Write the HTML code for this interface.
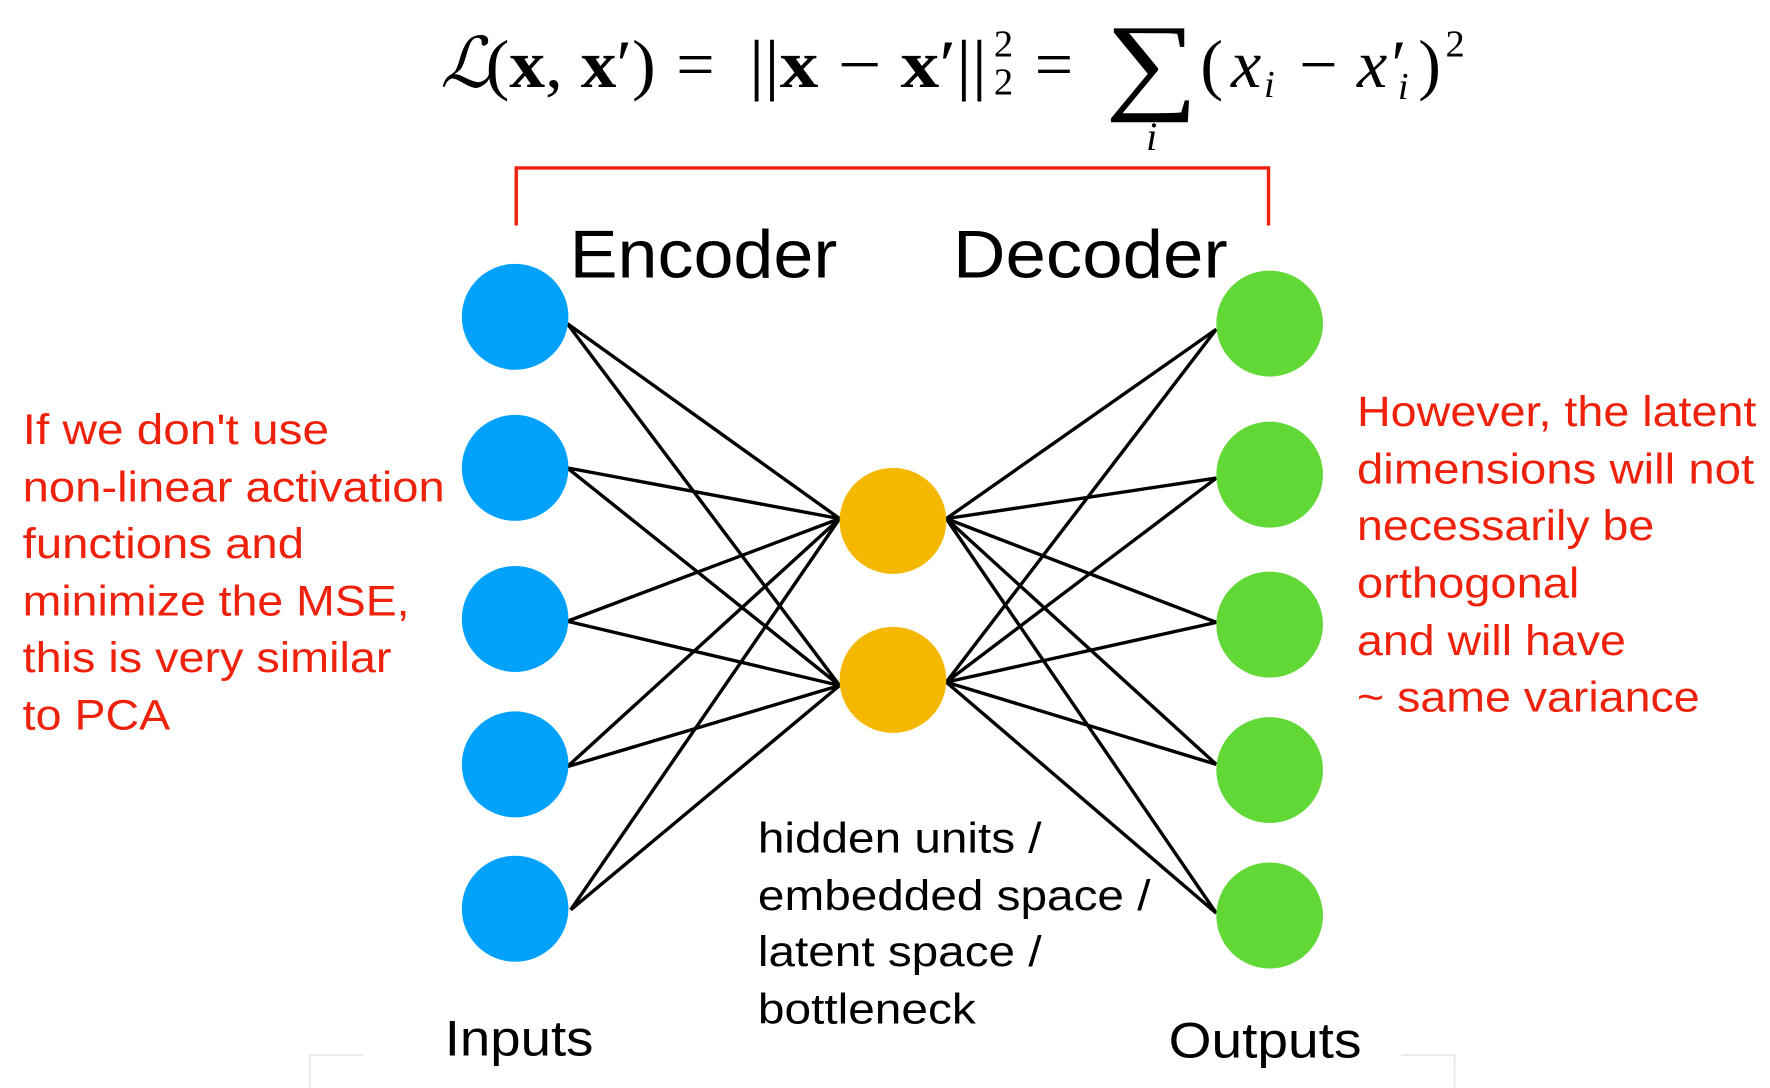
<!DOCTYPE html>
<html><head><meta charset="utf-8"><style>
html,body{margin:0;padding:0;background:#fff;}
svg{display:block;}
</style></head><body>
<svg width="1770" height="1088" viewBox="0 0 1560 965" preserveAspectRatio="none" xmlns="http://www.w3.org/2000/svg">
<rect width="1560" height="965" fill="#fff"/>
<!-- formula -->
<g font-family="Liberation Serif, serif" fill="#000">
<text x="388" y="77" font-size="62" font-style="italic">ℒ</text>
<text x="428" y="77" font-size="60" textLength="150" lengthAdjust="spacingAndGlyphs">(<tspan font-weight="bold">x</tspan>, <tspan font-weight="bold">x</tspan>′)</text>
<text x="596" y="77" font-size="60">=</text>
<text x="660" y="77" font-size="60" textLength="210" lengthAdjust="spacingAndGlyphs">||<tspan font-weight="bold">x</tspan> − <tspan font-weight="bold">x</tspan>′||</text>
<text x="876" y="50" font-size="34">2</text>
<text x="876" y="84" font-size="34">2</text>
<text x="912" y="77" font-size="60">=</text>
<text x="974" y="88" font-size="96" textLength="82" lengthAdjust="spacingAndGlyphs">∑</text>
<text x="1010" y="133" font-size="36" font-style="italic">i</text>
<text x="1058" y="77" font-size="60">(</text>
<text x="1085" y="77" font-size="60" font-style="italic">x</text>
<text x="1114" y="86" font-size="34" font-style="italic">i</text>
<text x="1145" y="77" font-size="60">−</text>
<text x="1196" y="77" font-size="60" font-style="italic">x′</text>
<text x="1232" y="88" font-size="34" font-style="italic">i</text>
<text x="1250" y="77" font-size="60">)</text>
<text x="1274" y="50" font-size="34">2</text>
</g>
<!-- bracket -->
<path d="M455 200 V149 H1118 V200" fill="none" stroke="#ee220c" stroke-width="3"/>
<g font-family="Liberation Sans, sans-serif">
<text x="502" y="246" font-size="60" textLength="236" lengthAdjust="spacingAndGlyphs">Encoder</text>
<text x="840" y="246" font-size="60" textLength="242" lengthAdjust="spacingAndGlyphs">Decoder</text>
</g>
<!-- lines -->
<g stroke="#000" stroke-width="3" fill="none">
<path d="M500 287 L740 460 M500 287 L740 608
M500 415 L740 460 M500 415 L740 608
M500 551 L740 460 M500 551 L740 608
M500 680 L740 460 M500 680 L740 608
M503 807 L740 460 M503 807 L740 608
M834 460 L1072 292 M834 460 L1072 424 M834 460 L1072 552 M834 460 L1072 678 M834 460 L1072 810
M834 605 L1072 292 M834 605 L1072 424 M834 605 L1072 552 M834 605 L1072 678 M834 605 L1072 810"/>
</g>
<!-- nodes -->
<g fill="#02a2fc">
<circle cx="454" cy="281" r="47"/><circle cx="454" cy="415" r="47"/><circle cx="454" cy="549" r="47"/><circle cx="454" cy="678" r="47"/><circle cx="454" cy="806" r="47"/>
</g>
<g fill="#f5b800"><circle cx="787" cy="462" r="47"/><circle cx="787" cy="603" r="47"/></g>
<g fill="#61d836">
<circle cx="1119" cy="287" r="47"/><circle cx="1119" cy="421" r="47"/><circle cx="1119" cy="554" r="47"/><circle cx="1119" cy="683" r="47"/><circle cx="1119" cy="812" r="47"/>
</g>
<g font-family="Liberation Sans, sans-serif" fill="#ee220c" font-size="38" lengthAdjust="spacingAndGlyphs">
<text x="20" y="394" textLength="270" lengthAdjust="spacingAndGlyphs">If we don't use</text>
<text x="20" y="445" textLength="372" lengthAdjust="spacingAndGlyphs">non-linear activation</text>
<text x="20" y="495" textLength="248" lengthAdjust="spacingAndGlyphs">functions and</text>
<text x="20" y="546" textLength="341" lengthAdjust="spacingAndGlyphs">minimize the MSE,</text>
<text x="20" y="596" textLength="325" lengthAdjust="spacingAndGlyphs">this is very similar</text>
<text x="20" y="647" textLength="130" lengthAdjust="spacingAndGlyphs">to PCA</text>
<text x="1196" y="378" textLength="352" lengthAdjust="spacingAndGlyphs">However, the latent</text>
<text x="1196" y="429" textLength="350" lengthAdjust="spacingAndGlyphs">dimensions will not</text>
<text x="1196" y="479" textLength="262" lengthAdjust="spacingAndGlyphs">necessarily be</text>
<text x="1196" y="530" textLength="196" lengthAdjust="spacingAndGlyphs">orthogonal</text>
<text x="1196" y="581" textLength="237" lengthAdjust="spacingAndGlyphs">and will have</text>
<text x="1196" y="631" textLength="302" lengthAdjust="spacingAndGlyphs">~ same variance</text>
</g>
<g font-family="Liberation Sans, sans-serif" fill="#000" font-size="38">
<text x="668" y="756" textLength="250" lengthAdjust="spacingAndGlyphs">hidden units /</text>
<text x="668" y="807" textLength="346" lengthAdjust="spacingAndGlyphs">embedded space /</text>
<text x="668" y="857" textLength="250" lengthAdjust="spacingAndGlyphs">latent space /</text>
<text x="668" y="908" textLength="192" lengthAdjust="spacingAndGlyphs">bottleneck</text>
<text x="392" y="936" font-size="44" textLength="131" lengthAdjust="spacingAndGlyphs">Inputs</text>
<text x="1030" y="938" font-size="44" textLength="170" lengthAdjust="spacingAndGlyphs">Outputs</text>
</g>
<path d="M320 936 H273 V965 M1235 936 H1282 V965" fill="none" stroke="#e6e6e6" stroke-width="1.5"/>
</svg>
</body></html>
